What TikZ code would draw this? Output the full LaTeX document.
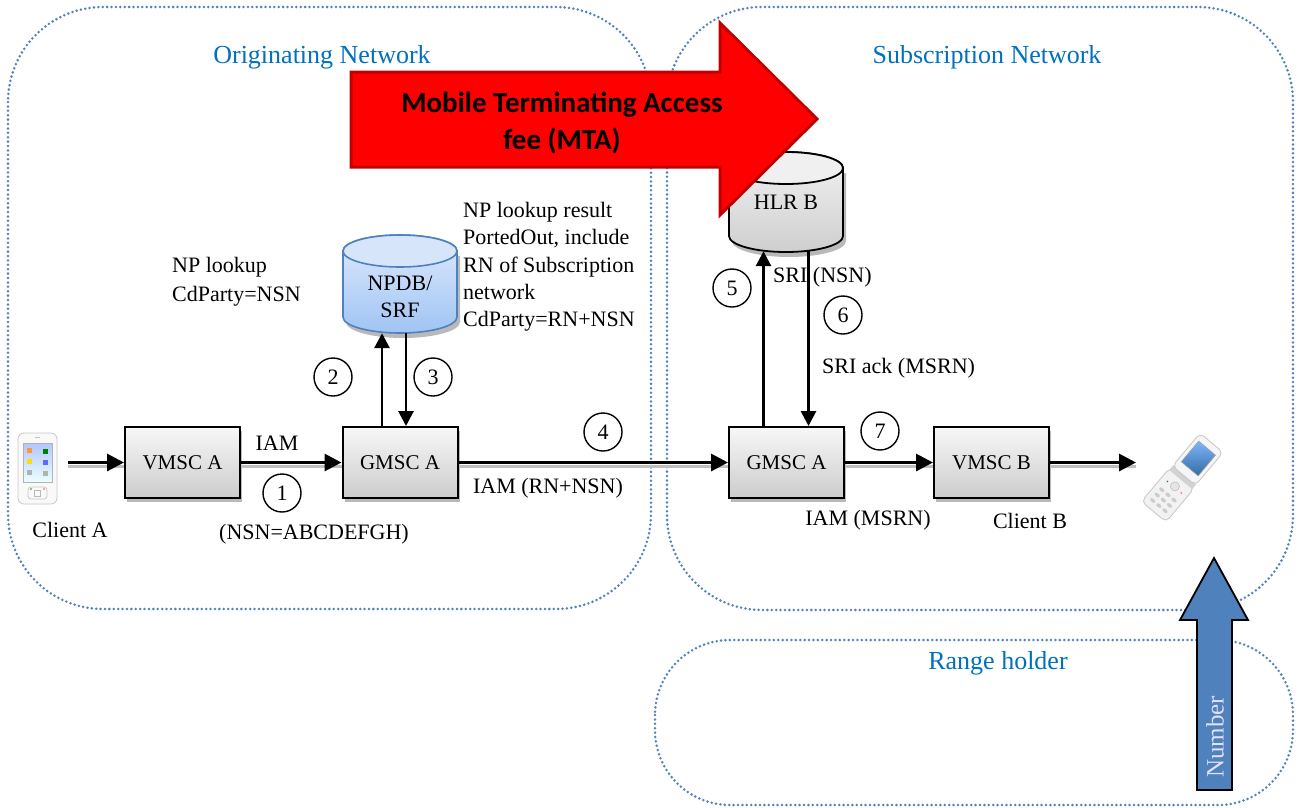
\documentclass[tikz,border=0pt]{standalone}
\usepackage{fontspec}
\setmainfont{Liberation Serif}
\newfontfamily\calfont{Carlito}
\usetikzlibrary{arrows.meta,shadows,calc}
\definecolor{netblue}{RGB}{79,129,189}
\definecolor{labelblue}{RGB}{0,112,192}
\definecolor{mtadark}{RGB}{192,0,0}
\definecolor{arrowblue}{RGB}{79,129,189}
\definecolor{dbtop}{RGB}{222,234,252}
\definecolor{dbbot}{RGB}{160,196,244}
\definecolor{dbcap}{RGB}{214,229,250}
\definecolor{screenblue}{RGB}{50,110,160}
\begin{document}
\begin{tikzpicture}[x=1pt,y=-1pt,
  netline/.style={draw=netblue, line width=2.8pt, dash pattern=on 0pt off 4.4pt, line cap=round},
  netlabel/.style={text=labelblue, font=\fontsize{26}{30}\selectfont, inner sep=0pt},
  txt/.style={font=\fontsize{22}{27}\selectfont, inner sep=0pt},
  box/.style={draw=black, line width=2pt, top color=gray!6, bottom color=gray!40,
    minimum width=115pt, minimum height=71pt, inner sep=0pt, font=\fontsize{21}{25}\selectfont,
    drop shadow={shadow xshift=2pt, shadow yshift=-4pt, fill=gray!55, opacity=1}},
  num/.style={circle, draw, line width=1.4pt, minimum size=38pt, inner sep=0pt, font=\fontsize{22}{25}\selectfont},
  flow/.style={line width=3pt, -{Triangle[length=17pt,width=17pt]},
    preaction={draw=gray!50, line width=3pt, -, transform canvas={yshift=-3.5pt}}},
  vflow/.style={line width=2.8pt, -{Triangle[length=15pt,width=15pt]}}
]
\useasboundingbox (0,0) rectangle (1298,807);

% network areas
\draw[netline, rounded corners=95pt] (8,7) rectangle (651,609);
\draw[netline, rounded corners=95pt] (667,7) rectangle (1293,610);
\draw[netline, rounded corners=75pt] (655,640) rectangle (1293,805);
\node[netlabel] (orig) at (322,57) {Originating Network};
\node[netlabel] (subs) at (987,57) {Subscription Network};
\node[netlabel] (range) at (998,663) {Range holder};

% HLR B cylinder
\path[fill=gray!55, shift={(3,5)}] (729,168) -- (729,236) arc[start angle=180,end angle=360,x radius=57pt,y radius=16pt] -- (843,168) -- cycle;
\path[top color=gray!10, bottom color=gray!38, draw=black, line width=1.8pt]
  (729,168) -- (729,236) arc[start angle=180,end angle=360,x radius=57pt,y radius=16pt]
  -- (843,168) arc[start angle=0,end angle=180,x radius=57pt,y radius=16pt] -- cycle;
\draw[fill=gray!12, line width=1.8pt] (786,168) ellipse[x radius=57pt, y radius=16pt];
\node[txt, minimum width=114pt, minimum height=98pt] (hlr) at (786,202) {HLR B};

% red arrow
\path[fill=red, draw=mtadark, line width=3pt, line join=miter]
  (351,72) -- (720,72) -- (720,23) -- (817,119) -- (720,215) -- (720,167) -- (351,167) -- cycle;
\node[font=\calfont\bfseries\fontsize{29}{37}\selectfont, align=center, inner sep=0pt] (mta) at (562,123)
  {Mobile Terminating Access\\fee (MTA)};

% NPDB/SRF cylinder
\path[fill=gray!55, shift={(3,5)}] (343,251) -- (343,317) arc[start angle=180,end angle=360,x radius=57pt,y radius=16pt] -- (457,251) -- cycle;
\path[top color=dbtop, bottom color=dbbot, draw=netblue, line width=1.6pt]
  (343,251) -- (343,317) arc[start angle=180,end angle=360,x radius=57pt,y radius=16pt]
  -- (457,251) arc[start angle=0,end angle=180,x radius=57pt,y radius=16pt] -- cycle;
\draw[fill=dbcap, draw=netblue, line width=1.6pt] (400,251) ellipse[x radius=57pt, y radius=16pt];
\node[txt, align=center, minimum width=114pt, minimum height=72pt] (npdb) at (400,297) {NPDB/\\SRF};

% boxes
\node[box] (vmscA) at (182.5,462.5) {VMSC A};
\node[box] (gmscA) at (400,462.5) {GMSC A};
\node[box] (gmscB) at (786.5,462.5) {GMSC A};
\node[box] (vmscB) at (991.5,462.5) {VMSC B};

% horizontal flows
\coordinate (inA) at (68,462.5);
\coordinate (outB) at (1136,462.5);
\draw[flow] (inA) -- (vmscA.west);
\draw[flow] (vmscA.east) -- (gmscA.west);
\draw[flow] (gmscA.east) -- (gmscB.west);
\draw[flow] (gmscB.east) -- (vmscB.west);
\draw[flow] (vmscB.east) -- (outB);

% vertical flows
\coordinate (c2) at ([xshift=-18pt]gmscA.north);
\coordinate (c3) at ([xshift=6pt]gmscA.north);
\coordinate (c5) at ([xshift=-23pt]gmscB.north);
\coordinate (c6) at ([xshift=22pt]gmscB.north);
\draw[vflow] (c2) -- (c2 |- npdb.south);
\draw[vflow] (c3 |- npdb.south) -- (c3);
\draw[vflow] (c5) -- (c5 |- hlr.south);
\draw[vflow] (c6 |- hlr.south) -- (c6);

% step numbers
\node[num] (n1) at (282,493) {1};
\node[num] (n2) at (333,377) {2};
\node[num] (n3) at (433,377) {3};
\node[num] (n4) at (603,432) {4};
\node[num] (n5) at (732,288) {5};
\node[num] (n6) at (843,315) {6};
\node[num] (n7) at (880,431) {7};

% texts
\node[txt] (iam1) at (277,443) {IAM};
\node[txt] (nsn) at (314,534) {(NSN=ABCDEFGH)};
\node[txt] (clA) at (70,530) {Client A};
\node[txt] (iam4) at (548,488) {IAM (RN+NSN)};
\node[txt, anchor=west] (sri) at (773,277) {SRI (NSN)};
\node[txt, anchor=west] (sriack) at (822,368) {SRI ack (MSRN)};
\node[txt] (iam7) at (868,520) {IAM (MSRN)};
\node[txt] (clB) at (1030,521) {Client B};
\node[txt, font=\fontsize{22}{29}\selectfont, align=left, anchor=west] (nplk) at (172,282) {NP lookup\\CdParty=NSN};
\node[txt, font=\fontsize{22}{27.3}\selectfont, align=left, anchor=west] (npres) at (463,267)
  {NP lookup result\\PortedOut, include\\RN of Subscription\\network\\CdParty=RN+NSN};

% Client A phone
\draw[fill=gray!5, draw=gray!45, line width=0.8pt, rounded corners=6pt] (18,433) rectangle (57,504);
\fill[top color=cyan!25!blue!30, bottom color=cyan!8] (23,443) rectangle (52,482);
\draw[gray!60, line width=0.6pt] (23,443) rectangle (52,482);
\fill[orange!80] (27,448) rectangle (32,453);
\fill[green!50!black] (43,449) rectangle (48,454);
\fill[yellow!80!orange] (27,459) rectangle (32,464);
\fill[blue!60] (43,460) rectangle (48,465);
\fill[gray!60] (27,470) rectangle (32,475);
\fill[gray!60] (43,471) rectangle (48,476);
\draw[gray!50, line width=0.8pt] (35,437) -- (40,437);
\draw[gray!45, line width=0.7pt, rounded corners=3pt] (28,487) rectangle (47,499);
\draw[gray!55, line width=0.7pt] (34.5,490) rectangle (40.5,496);
\fill[red!70] (44,489) circle[radius=0.9pt];
\fill[green!60!black] (31,489) circle[radius=0.9pt];

% Client B flip phone
\begin{scope}[shift={(1182,478)}, x=1pt, y=1pt, rotate=-40]
  \draw[fill=gray!10, draw=gray!45, line width=0.8pt, rounded corners=5pt] (-16,-44) rectangle (16,0);
  \foreach \yy in {-36,-29,-22} {
    \foreach \xx in {-8,0,8} {
      \fill[gray!40] (\xx,\yy) ellipse[x radius=3pt, y radius=1.8pt];
    }
  }
  \draw[gray!50, fill=gray!20, line width=0.6pt] (0,-11) circle[radius=4.5pt];
  \fill[green!50!black] (-9,-12) circle[radius=0.9pt];
  \fill[red!70] (9,-12) circle[radius=0.9pt];
  \fill[gray!35] (-15,-2) rectangle (15,4);
  \draw[fill=gray!8, draw=gray!45, line width=0.8pt, rounded corners=5pt] (-15,3) rectangle (15,46);
  \fill[top color=cyan!40!blue!50, bottom color=screenblue] (-11,12) rectangle (11,39);
  \draw[gray!60, line width=0.5pt] (-11,12) rectangle (11,39);
\end{scope}

% Number arrow
\path[fill=arrowblue, draw=black, line width=1.8pt, line join=miter]
  (1197,790) -- (1197,620) -- (1180,620) -- (1214,558) -- (1248,620) -- (1232,620) -- (1232,790) -- cycle;
\node[rotate=90, text=white!88!blue, font=\fontsize{25}{30}\selectfont, inner sep=0pt] (numb) at (1215,737) {Number};
\end{tikzpicture}
\end{document}
